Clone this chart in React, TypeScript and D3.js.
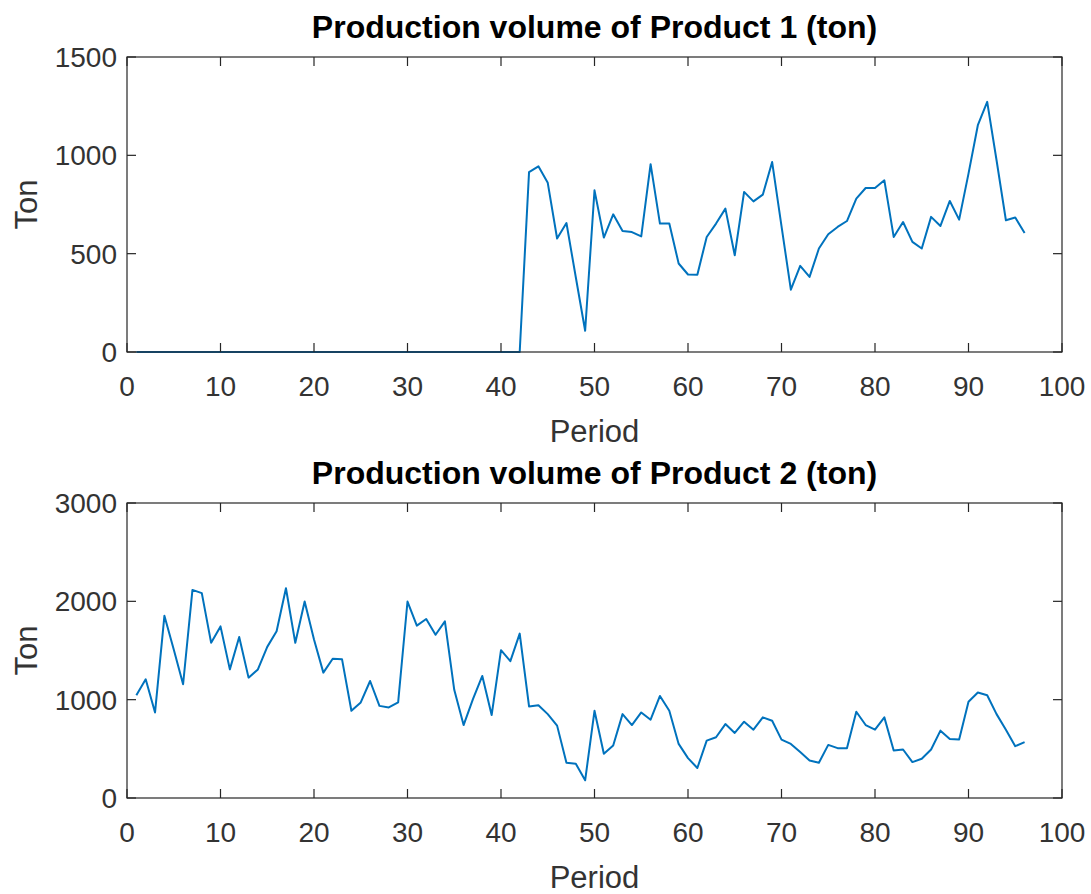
import { FC } from 'react'
import * as d3 from 'd3'

// periods 1..96
const periods = d3.range(1, 97)

// Product 1 (ton): zero until period 42
const product1 = [
  0, 0, 0, 0, 0, 0, 0, 0, 0, 0,
  0, 0, 0, 0, 0, 0, 0, 0, 0, 0,
  0, 0, 0, 0, 0, 0, 0, 0, 0, 0,
  0, 0, 0, 0, 0, 0, 0, 0, 0, 0,
  0, 0, 915, 944, 860, 577, 656, 380, 108, 822,
  582, 700, 615, 610, 588, 955, 653, 653, 450, 394,
  393, 585, 653, 729, 492, 814, 766, 800, 966, 640,
  317, 438, 382, 526, 599, 636, 666, 780, 834, 834,
  873, 585, 661, 560, 526, 687, 641, 768, 673, 907,
  1153, 1272, 975, 670, 684, 605,
]

// Product 2 (ton)
const product2 = [
  1045, 1207, 870, 1853, 1510, 1157, 2116, 2083, 1578, 1745,
  1308, 1638, 1224, 1308, 1537, 1695, 2133, 1578, 1998, 1611,
  1275, 1416, 1410, 887, 972, 1190, 937, 921, 972, 1998,
  1753, 1820, 1660, 1796, 1100, 742, 1005, 1241, 843, 1503,
  1392, 1672, 931, 944, 853, 736, 359, 348, 180, 887,
  450, 533, 853, 742, 870, 796, 1038, 887, 550, 406,
  305, 584, 618, 752, 662, 776, 695, 820, 786, 594,
  550, 467, 382, 359, 540, 507, 507, 877, 742, 695,
  820, 483, 493, 365, 399, 493, 685, 601, 594, 978,
  1073, 1045, 853, 695, 527, 568,
]

const xTicks = [0, 10, 20, 30, 40, 50, 60, 70, 80, 90, 100]
const yTicks1 = [0, 500, 1000, 1500]
const yTicks2 = [0, 1000, 2000, 3000]

const titles = ['Production volume of Product 1 (ton)', 'Production volume of Product 2 (ton)']
const xLabel = 'Period'
const yLabel = 'Ton'

const WIDTH = 1091
const HEIGHT = 894
const FONT = '"Liberation Sans", Arial, Helvetica, sans-serif'
const AXIS_COLOR = '#262626'
const TEXT_COLOR = '#333'
const LINE_COLOR = '#0072BD'
const TICK_LEN = 9

interface PanelProps {
  top: number
  values: number[]
  yTicks: number[]
  title: string
}

const Panel: FC<PanelProps> = ({ top, values, yTicks, title }) => {
  const left = 127
  const right = 1062
  const plotH = 295
  const bottom = top + plotH

  const x = d3.scaleLinear().domain([0, 100]).range([left, right])
  const y = d3.scaleLinear().domain([yTicks[0], yTicks[yTicks.length - 1]]).range([bottom, top])

  const line = d3.line<number>()
    .x((_, i) => x(periods[i]))
    .y(d => y(d))

  return (
    <g>
      <path d={line(values) ?? ''} fill="none" stroke={LINE_COLOR} strokeWidth={2} strokeLinejoin="round" />

      {/* box */}
      <rect x={left} y={top} width={right - left} height={plotH} fill="none" stroke={AXIS_COLOR} strokeWidth={1.2} />

      {xTicks.map(t => (
        <g key={`x${t}`}>
          <line x1={x(t)} x2={x(t)} y1={bottom} y2={bottom - TICK_LEN} stroke={AXIS_COLOR} strokeWidth={1.2} />
          <line x1={x(t)} x2={x(t)} y1={top} y2={top + TICK_LEN} stroke={AXIS_COLOR} strokeWidth={1.2} />
          <text x={x(t)} y={bottom + 44} textAnchor="middle" fontSize={28} fill={TEXT_COLOR} fontFamily={FONT}>{t}</text>
        </g>
      ))}

      {yTicks.map(t => (
        <g key={`y${t}`}>
          <line x1={left} x2={left + TICK_LEN} y1={y(t)} y2={y(t)} stroke={AXIS_COLOR} strokeWidth={1.2} />
          <line x1={right} x2={right - TICK_LEN} y1={y(t)} y2={y(t)} stroke={AXIS_COLOR} strokeWidth={1.2} />
          <text x={left - 10} y={y(t) + 10} textAnchor="end" fontSize={28} fill={TEXT_COLOR} fontFamily={FONT}>{t}</text>
        </g>
      ))}

      <text x={(left + right) / 2} y={top - 19} textAnchor="middle" fontSize={32} fontWeight="bold" fill="#000" fontFamily={FONT}>{title}</text>
      <text x={(left + right) / 2} y={bottom + 90} textAnchor="middle" fontSize={31} fill={TEXT_COLOR} fontFamily={FONT}>{xLabel}</text>
      <text transform={`translate(37,${(top + bottom) / 2}) rotate(-90)`} textAnchor="middle" fontSize={31} fill={TEXT_COLOR} fontFamily={FONT}>{yLabel}</text>
    </g>
  )
}

const App: FC = () => {
  return (
    <svg
      width={WIDTH}
      height={HEIGHT}
      style={{ position: 'absolute', left: 0, top: 0, display: 'block', background: '#fff' }}
    >
      <rect width={WIDTH} height={HEIGHT} fill="#fff" />
      <Panel top={57} values={product1} yTicks={yTicks1} title={titles[0]} />
      <Panel top={503} values={product2} yTicks={yTicks2} title={titles[1]} />
    </svg>
  )
}

export default App
